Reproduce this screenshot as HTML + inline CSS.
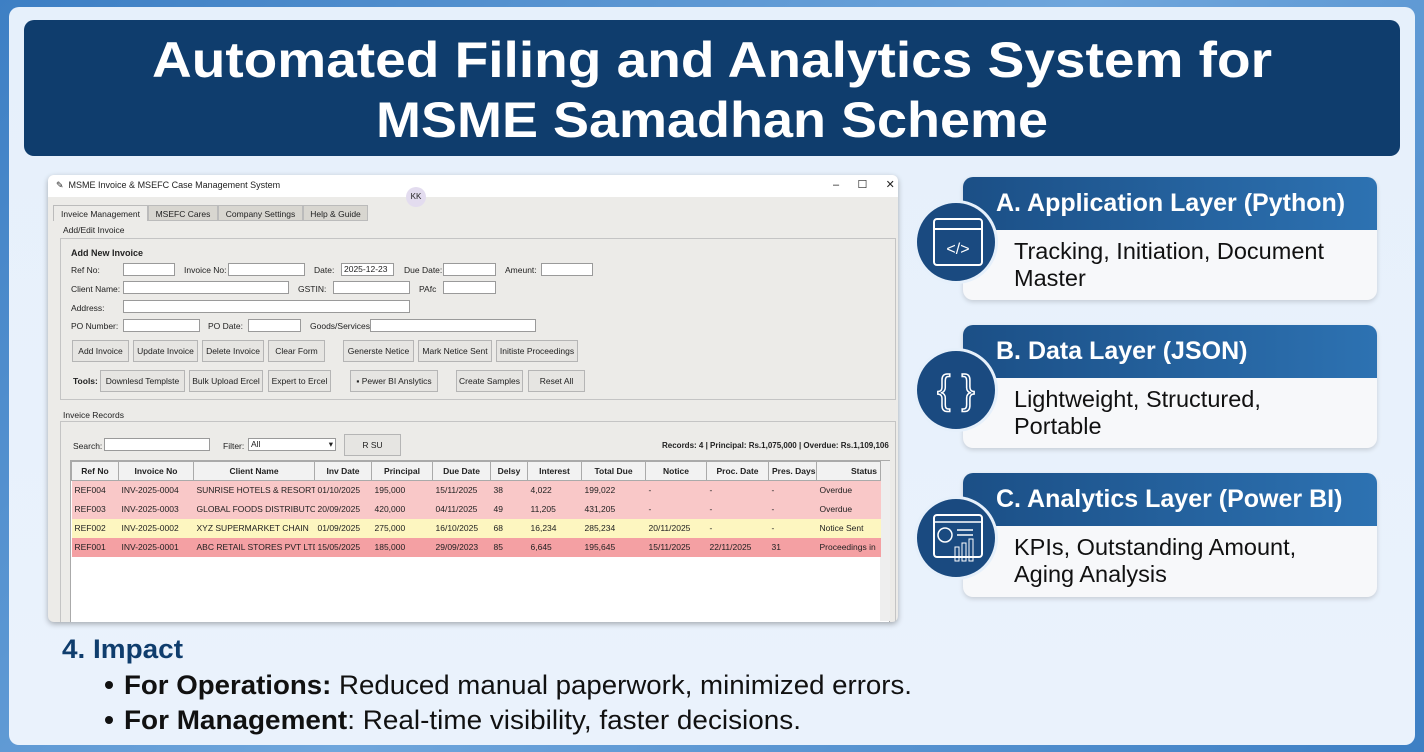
<!DOCTYPE html>
<html><head><meta charset="utf-8"><style>
*{margin:0;padding:0;box-sizing:border-box}
body{width:1424px;height:752px;overflow:hidden;background:linear-gradient(135deg,#3d7fc4,#6fa6dc 50%,#3d7fc4);font-family:"Liberation Sans",sans-serif;position:relative}
.a{position:absolute}
.panel{left:9px;top:7px;width:1406px;height:738px;background:linear-gradient(180deg,#e6f0fb,#eaf2fc);border-radius:10px}
.ban{left:24px;top:20px;width:1376px;height:136px;background:#0f3d6d;border-radius:10px}
.win{left:48px;top:175px;width:850px;height:447px;background:#ecebe8;border-radius:6px;box-shadow:0 2px 6px rgba(0,0,0,.3);overflow:hidden;font-size:8.5px;color:#222}
.win .a{white-space:nowrap}
.in{background:#fff;border:1px solid #9a9a9a;height:13px}
.btn{background:#e6e5e2;border:1px solid #b5b5b5;height:22px;line-height:20px;text-align:center;font-size:8.5px}
.tab{top:30px;height:16px;line-height:16px;text-align:center;background:#d8d6d0;border:1px solid #bbb}
table{border-collapse:collapse;font-size:8.5px;table-layout:fixed}
td,th{height:19px;padding:0 3px;white-space:nowrap;overflow:hidden;text-align:left;font-weight:normal}
th{font-weight:bold;text-align:center;background:#f2f2f2;border:1px solid #aaa}
.card{left:963px;width:414px;border-radius:10px;background:#f7f8fa;box-shadow:0 2px 5px rgba(0,0,0,.15);overflow:hidden}
.ch{height:53px;background:linear-gradient(90deg,#1b4f86,#2d72b2);color:#fff;font-weight:bold;font-size:25px;padding:12px 0 0 33px}
.cb{font-size:23.5px;color:#111;padding:8px 0 0 51px;line-height:27px}
.circ{left:914px;width:84px;height:84px;border-radius:50%;background:#1a4a80;border:3px solid #e6f0fb}
</style></head><body>
<div class="a panel"></div>
<div class="a ban"></div>
<svg class="a" style="left:0;top:0" width="1424" height="160">
<text x="712" y="77" text-anchor="middle" font-family="Liberation Sans" font-weight="bold" font-size="50" fill="#fff" textLength="1120" lengthAdjust="spacingAndGlyphs">Automated Filing and Analytics System for</text>
<text x="712" y="137" text-anchor="middle" font-family="Liberation Sans" font-weight="bold" font-size="50" fill="#fff" textLength="672" lengthAdjust="spacingAndGlyphs">MSME Samadhan Scheme</text>
</svg>

<div class="a win">
 <div class="a" style="left:0;top:0;width:850px;height:22px;background:#fff"></div>
 <div class="a" style="left:8px;top:5px;font-size:9px">✎ &nbsp;MSME Invoice &amp; MSEFC Case Management System</div>
 <div class="a" style="left:785px;top:3px;font-size:11px">–&nbsp;&nbsp;&nbsp;&nbsp;&nbsp;&nbsp;☐&nbsp;&nbsp;&nbsp;&nbsp;&nbsp;&nbsp;✕</div>
 <div class="a" style="left:358px;top:12px;width:20px;height:20px;border-radius:50%;background:#e3dcef;font-size:8px;line-height:20px;text-align:center">KK</div>
 <div class="a tab" style="left:5px;width:95px;background:#ecebe8;border-bottom:none">Inveice Management</div>
 <div class="a tab" style="left:100px;width:70px">MSEFC Cares</div>
 <div class="a tab" style="left:170px;width:85px">Company Settings</div>
 <div class="a tab" style="left:255px;width:65px">Help &amp; Guide</div>
 <div class="a" style="left:15px;top:50px">Add/Edit Invoice</div>
 <div class="a" style="left:12px;top:63px;width:836px;height:162px;border:1px solid #c4c4c4"></div>
 <div class="a" style="left:23px;top:73px;font-weight:bold;font-size:9px">Add New Invoice</div>
 <div class="a" style="left:23px;top:90px">Ref No:</div><div class="a in" style="left:75px;top:88px;width:52px"></div>
 <div class="a" style="left:136px;top:90px">Invoice No:</div><div class="a in" style="left:180px;top:88px;width:77px"></div>
 <div class="a" style="left:266px;top:90px">Date:</div><div class="a in" style="left:293px;top:88px;width:53px;padding-left:2px">2025-12-23</div>
 <div class="a" style="left:356px;top:90px">Due Date:</div><div class="a in" style="left:395px;top:88px;width:53px"></div>
 <div class="a" style="left:457px;top:90px">Ameunt:</div><div class="a in" style="left:493px;top:88px;width:52px"></div>
 <div class="a" style="left:23px;top:109px">Client Name:</div><div class="a in" style="left:75px;top:106px;width:166px"></div>
 <div class="a" style="left:250px;top:109px">GSTIN:</div><div class="a in" style="left:285px;top:106px;width:77px"></div>
 <div class="a" style="left:371px;top:109px">PAfc</div><div class="a in" style="left:395px;top:106px;width:53px"></div>
 <div class="a" style="left:23px;top:128px">Address:</div><div class="a in" style="left:75px;top:125px;width:287px"></div>
 <div class="a" style="left:23px;top:146px">PO Number:</div><div class="a in" style="left:75px;top:144px;width:77px"></div>
 <div class="a" style="left:160px;top:146px">PO Date:</div><div class="a in" style="left:200px;top:144px;width:53px"></div>
 <div class="a" style="left:262px;top:146px">Goods/Services:</div><div class="a in" style="left:322px;top:144px;width:166px"></div>
 <div class="a btn" style="left:24px;top:165px;width:57px">Add Invoice</div>
 <div class="a btn" style="left:85px;top:165px;width:65px">Update Invoice</div>
 <div class="a btn" style="left:154px;top:165px;width:62px">Delete Invoice</div>
 <div class="a btn" style="left:220px;top:165px;width:57px">Clear Form</div>
 <div class="a btn" style="left:295px;top:165px;width:71px">Generste Netice</div>
 <div class="a btn" style="left:370px;top:165px;width:74px">Mark Netice Sent</div>
 <div class="a btn" style="left:448px;top:165px;width:82px">Initiste Proceedings</div>
 <div class="a" style="left:25px;top:201px;font-weight:bold">Tools:</div>
 <div class="a btn" style="left:52px;top:195px;width:85px">Downlesd Templste</div>
 <div class="a btn" style="left:141px;top:195px;width:74px">Bulk Upload Ercel</div>
 <div class="a btn" style="left:220px;top:195px;width:63px">Expert to Ercel</div>
 <div class="a btn" style="left:302px;top:195px;width:88px">▪ Pewer BI Anslytics</div>
 <div class="a btn" style="left:408px;top:195px;width:67px">Create Samples</div>
 <div class="a btn" style="left:480px;top:195px;width:57px">Reset All</div>
 <div class="a" style="left:15px;top:235px">Inveice Records</div>
 <div class="a" style="left:12px;top:246px;width:836px;height:210px;border:1px solid #c4c4c4"></div>
 <div class="a" style="left:25px;top:266px">Search:</div><div class="a in" style="left:56px;top:263px;width:106px"></div>
 <div class="a" style="left:175px;top:266px">Filter:</div><div class="a in" style="left:200px;top:263px;width:88px;padding-left:2px">All<span style="float:right;padding-right:2px">▾</span></div>
 <div class="a btn" style="left:296px;top:259px;width:57px">R&nbsp;SU</div>
 <div class="a" style="left:614px;top:266px;font-weight:bold;font-size:8px">Records: 4 | Principal: Rs.1,075,000 | Overdue: Rs.1,109,106</div>
 <div class="a" style="left:22px;top:285px;width:820px;height:165px;background:#fff;border:1px solid #aaa"></div>
 <div class="a" style="left:832px;top:286px;width:10px;height:160px;background:#eee"></div>
 <table class="a" style="left:23px;top:286px;width:809px">
 <colgroup><col style="width:47px"><col style="width:75px"><col style="width:121px"><col style="width:57px"><col style="width:61px"><col style="width:58px"><col style="width:37px"><col style="width:54px"><col style="width:64px"><col style="width:61px"><col style="width:62px"><col style="width:48px"><col style="width:64px"></colgroup>
 <tr><th>Ref No</th><th>Invoice No</th><th>Client Name</th><th>Inv Date</th><th>Principal</th><th>Due Date</th><th>Delsy</th><th>Interest</th><th>Total Due</th><th>Notice</th><th>Proc. Date</th><th>Pres. Days</th><th style="text-align:right">Status</th></tr>
 <tr style="background:#f9c8c8"><td>REF004</td><td>INV-2025-0004</td><td>SUNRISE HOTELS &amp; RESORTS</td><td>01/10/2025</td><td>195,000</td><td>15/11/2025</td><td>38</td><td>4,022</td><td>199,022</td><td>-</td><td>-</td><td>-</td><td>Overdue</td></tr>
 <tr style="background:#f9c8c8"><td>REF003</td><td>INV-2025-0003</td><td>GLOBAL FOODS DISTRIBUTOP</td><td>20/09/2025</td><td>420,000</td><td>04/11/2025</td><td>49</td><td>11,205</td><td>431,205</td><td>-</td><td>-</td><td>-</td><td>Overdue</td></tr>
 <tr style="background:#fdf6c0"><td>REF002</td><td>INV-2025-0002</td><td>XYZ SUPERMARKET CHAIN</td><td>01/09/2025</td><td>275,000</td><td>16/10/2025</td><td>68</td><td>16,234</td><td>285,234</td><td>20/11/2025</td><td>-</td><td>-</td><td>Notice Sent</td></tr>
 <tr style="background:#f4a0a3"><td>REF001</td><td>INV-2025-0001</td><td>ABC RETAIL STORES PVT LTD</td><td>15/05/2025</td><td>185,000</td><td>29/09/2023</td><td>85</td><td>6,645</td><td>195,645</td><td>15/11/2025</td><td>22/11/2025</td><td>31</td><td>Proceedings in</td></tr>
 </table>
</div>

<div class="a card" style="top:177px;height:123px"><div class="ch">A. Application Layer (Python)</div><div class="cb">Tracking, Initiation, Document<br>Master</div></div>
<div class="a card" style="top:325px;height:123px"><div class="ch">B. Data Layer (JSON)</div><div class="cb">Lightweight, Structured,<br>Portable</div></div>
<div class="a card" style="top:473px;height:124px"><div class="ch">C. Analytics Layer (Power BI)</div><div class="cb">KPIs, Outstanding Amount,<br>Aging Analysis</div></div>

<div class="a circ" style="top:200px"><svg width="78" height="78" viewBox="0 0 78 78"><rect x="17" y="16" width="48" height="46" rx="3" fill="none" stroke="#fff" stroke-width="2"/><line x1="17" y1="26" x2="65" y2="26" stroke="#fff" stroke-width="2"/><text x="41" y="51" text-anchor="middle" fill="#fff" font-size="16" font-family="Liberation Sans">&lt;/&gt;</text></svg></div>
<div class="a circ" style="top:348px"><svg width="78" height="78" viewBox="0 0 78 78"><text x="39" y="52" text-anchor="middle" fill="none" stroke="#fff" stroke-width="1.5" font-size="40" font-family="Liberation Sans">{ }</text></svg></div>
<div class="a circ" style="top:496px"><svg width="78" height="78" viewBox="0 0 78 78"><rect x="17" y="16" width="48" height="42" rx="3" fill="none" stroke="#fff" stroke-width="2"/><line x1="17" y1="23" x2="65" y2="23" stroke="#fff" stroke-width="1.5"/><circle cx="28" cy="36" r="7" fill="none" stroke="#fff" stroke-width="1.5"/><line x1="40" y1="31" x2="56" y2="31" stroke="#fff" stroke-width="1.5"/><line x1="40" y1="36" x2="56" y2="36" stroke="#fff" stroke-width="1.5"/><rect x="38" y="48" width="4" height="14" fill="none" stroke="#fff"/><rect x="45" y="44" width="4" height="18" fill="none" stroke="#fff"/><rect x="52" y="40" width="4" height="22" fill="none" stroke="#fff"/></svg></div>

<svg class="a" style="left:0;top:620px" width="1000" height="130">
<text x="62" y="38" font-family="Liberation Sans" font-weight="bold" font-size="27" fill="#0f3d6d" textLength="121" lengthAdjust="spacingAndGlyphs">4. Impact</text>
<circle cx="109" cy="65" r="4" fill="#111"/>
<circle cx="109" cy="100" r="4" fill="#111"/>
<text x="124" y="74" font-family="Liberation Sans" font-size="27" fill="#111" textLength="788" lengthAdjust="spacingAndGlyphs"><tspan font-weight="bold">For Operations:</tspan> Reduced manual paperwork, minimized errors.</text>
<text x="124" y="109" font-family="Liberation Sans" font-size="27" fill="#111" textLength="677" lengthAdjust="spacingAndGlyphs"><tspan font-weight="bold">For Management</tspan>: Real-time visibility, faster decisions.</text>
</svg>
</body></html>
